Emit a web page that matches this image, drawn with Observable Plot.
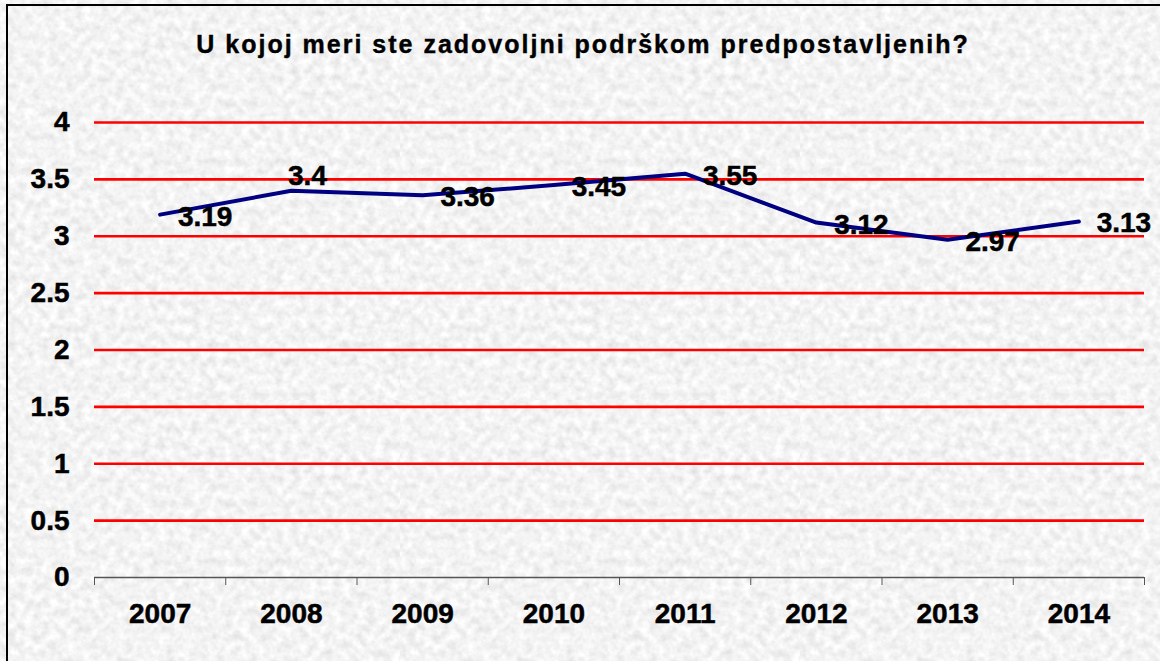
<!DOCTYPE html>
<html>
<head>
<meta charset="utf-8">
<script src="https://cdn.jsdelivr.net/npm/d3@7"></script>
<script src="https://cdn.jsdelivr.net/npm/@observablehq/plot@0.6"></script>
<style>
  html, body { margin: 0; padding: 0; width: 1160px; height: 661px; overflow: hidden; }
  body {
    font-family: "Liberation Sans", Arial, sans-serif;
    background-color: #e6e6e6;
    background-image: url("data:image/svg+xml;utf8,<svg xmlns='http://www.w3.org/2000/svg' width='400' height='400'><filter id='n'><feTurbulence type='fractalNoise' baseFrequency='0.12' numOctaves='3' seed='7'/><feColorMatrix values='0.36 0 0 0 0.72  0.36 0 0 0 0.72  0.36 0 0 0 0.72  0 0 0 0 1'/></filter><rect width='400' height='400' filter='url(%23n)'/></svg>");
    position: relative;
  }
  #frame { position: absolute; left: 6px; top: 4px; width: 1200px; height: 700px;
           border-left: 2px solid #000; border-top: 2px solid #000; box-sizing: border-box; }
  #title { position: absolute; top: 32px; left: 583px; transform: translateX(-50%);
           font-size: 25px; line-height: 25px; font-weight: bold; letter-spacing: 2px;
           white-space: nowrap; color: #000; -webkit-text-stroke: 0.4px #000; }
  #chart { position: absolute; left: 0; top: 70px; }
  #chart svg text { stroke: #000; stroke-width: 0.5px; }
  #chart g[aria-label="x-axis tick"] { stroke: #555; }
</style>
</head>
<body>
<div id="frame"></div>
<div id="title">U kojoj meri ste zadovoljni podrškom predpostavljenih?</div>
<div id="chart"></div>
<script>
// ---- data ----
const years = ["2007", "2008", "2009", "2010", "2011", "2012", "2013", "2014"];
const values = [3.19, 3.4, 3.36, 3.45, 3.55, 3.12, 2.97, 3.13];
const yTicks = [0, 0.5, 1, 1.5, 2, 2.5, 3, 3.5, 4];
const gridValues = [0.5, 1, 1.5, 2, 2.5, 3, 3.5, 4];

const data = years.map((y, i) => ({idx: i, year: y, value: values[i]}));
// category boundaries (between categories) for the x-axis tick marks
const bounds = d3.range(years.length + 1).map(i => i - 0.5);

const chart = Plot.plot({
  width: 1160,
  height: 591,
  marginLeft: 94,
  marginRight: 16,
  marginTop: 52,
  marginBottom: 84,
  style: {background: "transparent", fontFamily: "'Liberation Sans', Arial, sans-serif", fontSize: "28px", fontWeight: "bold", color: "#000"},
  x: {type: "linear", domain: [-0.5, years.length - 0.5], ticks: bounds, tickSize: 8, tickFormat: () => "", label: null},
  y: {domain: [0, 4], ticks: yTicks, tickSize: 0, tickPadding: 25, tickFormat: d => String(d), label: null},
  marks: [
    Plot.ruleY(gridValues, {stroke: "#ff0000", strokeWidth: 2.6}),
    Plot.ruleY([0], {stroke: "#555", strokeWidth: 1.5}),
    Plot.text(data, {x: "idx", text: "year", frameAnchor: "bottom", dy: 45, fontSize: 28, fontWeight: "bold", fill: "#000"}),
    Plot.line(data, {x: "idx", y: "value", stroke: "#000080", strokeWidth: 4}),
    Plot.text(data.filter(d => d.idx !== 1), {x: "idx", y: "value", text: d => String(d.value), dx: 45, dy: 2, fontSize: 28, fontWeight: "bold", fill: "#000"}),
    Plot.text(data.filter(d => d.idx === 1), {x: "idx", y: "value", text: d => String(d.value), dx: 16, dy: -15, fontSize: 28, fontWeight: "bold", fill: "#000"})
  ]
});
document.getElementById("chart").appendChild(chart);
</script>
</body>
</html>
